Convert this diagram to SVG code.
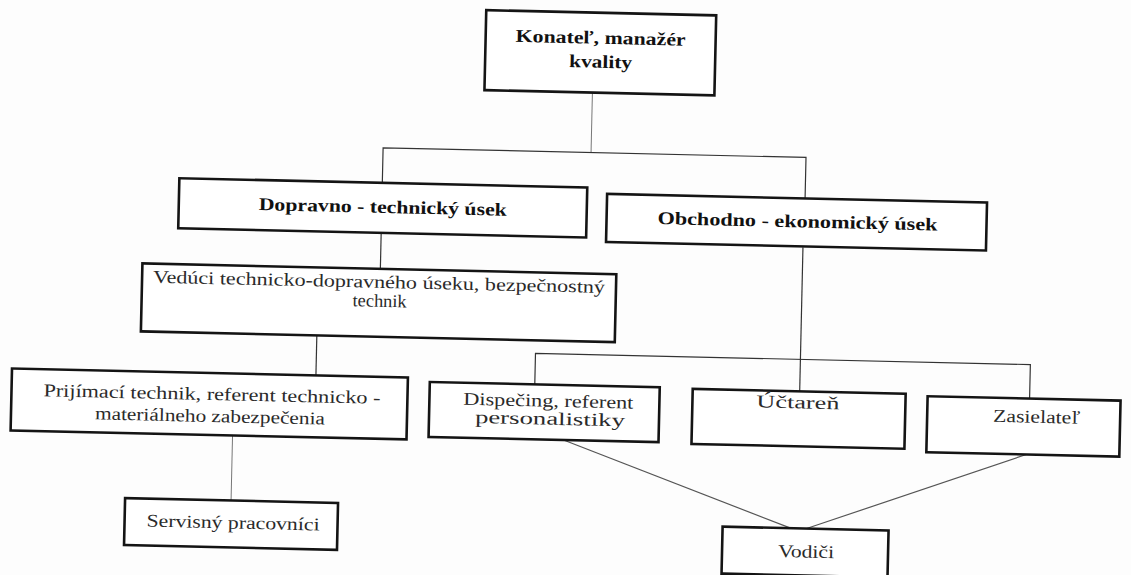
<svg xmlns="http://www.w3.org/2000/svg" width="1131" height="575" viewBox="0 0 1131 575">
<style>
.box{fill:#fff;stroke:#141414;stroke-width:2.6}
.conn{fill:none;stroke:#333;stroke-width:1.2}
.thin{stroke:#777;stroke-width:1}
.diag{stroke:#555;stroke-width:1.2}
.t{font-family:"Liberation Serif","Times New Roman",serif;font-size:18px;fill:#2a2a2a}
.b{font-weight:bold;fill:#111}
</style>
<rect width="1131" height="575" fill="#fdfdfd"/>
<g transform="rotate(1.3 565 287)">
<g id="connectors">
<line class="conn thin" x1="588" y1="92" x2="588" y2="152"/>
<polyline class="conn" points="380,187 380,152 803,152 803,194"/>
<line class="conn" x1="380" y1="237" x2="380" y2="273"/>
<line class="conn" x1="802" y1="242" x2="802" y2="386"/>
<polyline class="conn" points="537,385 537,354 1032,354 1032,388"/>
<line class="conn" x1="318" y1="341" x2="318" y2="381"/>
<line class="conn thin" x1="236" y1="443" x2="236" y2="508"/>
<line class="conn diag" x1="567" y1="440" x2="796" y2="523"/>
<line class="conn diag" x1="1030" y1="444" x2="812" y2="523"/>
</g>
<g id="n-konatel">
<rect class="box" x="480" y="12" width="230" height="80"/>
<text class="t b" x="510" y="43" textLength="170" lengthAdjust="spacingAndGlyphs">Konateľ, manažér</text>
<text class="t b" x="564" y="67" textLength="63" lengthAdjust="spacingAndGlyphs">kvality</text>
</g>
<g id="n-dopravno">
<rect class="box" x="177" y="187" width="408" height="50"/>
<text class="t b" x="257" y="217" textLength="248" lengthAdjust="spacingAndGlyphs">Dopravno - technický úsek</text>
</g>
<g id="n-obchodno">
<rect class="box" x="605" y="193" width="380" height="48"/>
<text class="t b" x="656" y="222" textLength="280" lengthAdjust="spacingAndGlyphs">Obchodno - ekonomický  úsek</text>
</g>
<g id="n-veduci">
<rect class="box" x="142" y="273" width="474" height="68"/>
<text class="t" x="153" y="292" textLength="452" lengthAdjust="spacingAndGlyphs">Vedúci technicko-dopravného  úseku, bezpečnostný</text>
<text class="t" x="353" y="311" textLength="54" lengthAdjust="spacingAndGlyphs">technik</text>
</g>
<g id="n-prijimaci">
<rect class="box" x="14" y="381" width="396" height="62"/>
<text class="t" x="46" y="408" textLength="337" lengthAdjust="spacingAndGlyphs">Prijímací technik, referent technicko  -</text>
<text class="t" x="98" y="430" textLength="230" lengthAdjust="spacingAndGlyphs">materiálneho zabezpečenia</text>
</g>
<g id="n-dispecing">
<rect class="box" x="432" y="385" width="230" height="55"/>
<text class="t" x="466" y="407" textLength="170" lengthAdjust="spacingAndGlyphs">Dispečing, referent</text>
<text class="t" x="478" y="425" textLength="150" lengthAdjust="spacingAndGlyphs">personalistiky</text>
</g>
<g id="n-uctaren">
<rect class="box" x="695" y="386" width="213" height="55"/>
<text class="t" x="759" y="403" textLength="83" lengthAdjust="spacingAndGlyphs">Účtareň</text>
</g>
<g id="n-zasielatel">
<rect class="box" x="930" y="388" width="193" height="56"/>
<text class="t" x="996" y="412" textLength="87" lengthAdjust="spacingAndGlyphs">Zasielateľ</text>
</g>
<g id="n-servisny">
<rect class="box" x="130" y="508" width="213" height="47"/>
<text class="t" x="152" y="536" textLength="173" lengthAdjust="spacingAndGlyphs">Servisný pracovníci</text>
</g>
<g id="n-vodici">
<rect class="box" x="728" y="523" width="166" height="47"/>
<text class="t" x="784" y="552" textLength="56" lengthAdjust="spacingAndGlyphs">Vodiči</text>
</g>
</g>
</svg>
